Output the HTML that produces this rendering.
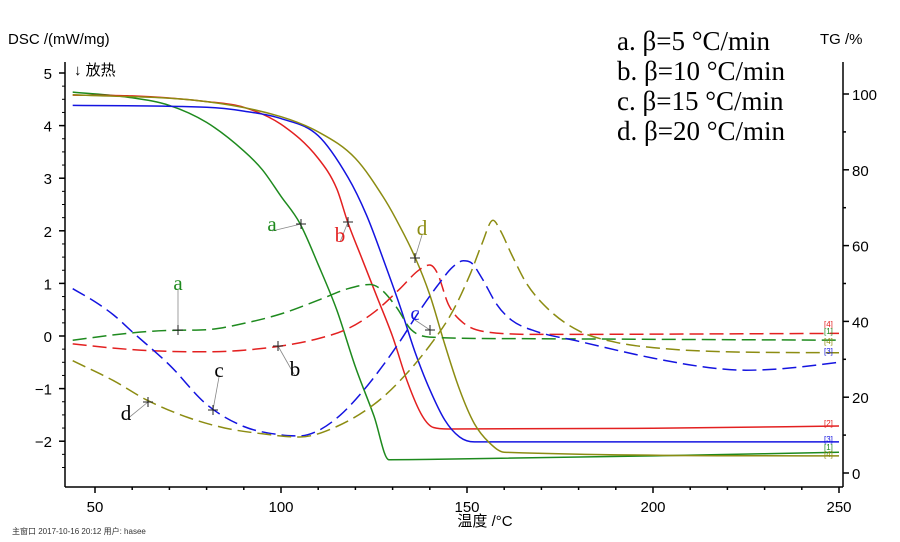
<!DOCTYPE html>
<html><head><meta charset="utf-8"><style>
body{margin:0;background:#fff;width:900px;height:542px;overflow:hidden}
svg{display:block}
text{font-family:"Liberation Sans","Noto Sans CJK SC",sans-serif}
.serif{font-family:"Liberation Serif","Noto Serif CJK SC",serif}
</style></head><body>
<svg id="chart" width="900" height="542" xmlns="http://www.w3.org/2000/svg"></svg>
<script>
const xTicks=[50,100,150,200,250];
const yLeftTicks=[5,4,3,2,1,0,-1,-2];
const yRightTicks=[100,80,60,40,20,0];
const tgT={a:[44,60,70,80,90,95,100,105,110,115,120,125,129,140,200,250],
b:[44,60,80,90,100,110,115,118,122,126,130,134,138,141,145,200,250],
c:[44,80,90,100,110,118,123,128,132,136,140,144,148,152,250],
d:[44,80,100,110,120,128,132,136,140,144,148,152,156,160,250]};
const tgA=[100.5,99,97,92.5,85,80,73,66,55,43,28,15,3.5,3.6,4.5,5.5];
const tgB=[99.7,99.5,98,96.5,92,83,75,66,56,46,36,24,15,12,11.6,11.8,12.4];
const tgC=[97,96.5,95.5,93.5,89,78,68,55,44,32,22,14,9.5,8.2,8.2];
const tgD=[99.8,98,94,90,83,72,65,57,47,34,22,13,8,5.5,4.5];
const dscT={a:[44,55,65,72,80,90,100,110,118,124,127,131,135,140,160,250],
b:[44,55,65,80,90,100,110,118,125,132,137,140,142,145,149,155,170,250],
c:[44,50,55,60,70,80,90,100,105,110,116,122,127,132,137,142,146,149,151,154,158,162,168,180,200,215,225,235,250],
d:[44,55,64,75,85,95,105,115,125,132,140,146,151,154,157,159,162,166,172,180,190,200,215,250]};
const dscA=[-0.08,0.02,0.09,0.11,0.12,0.24,0.42,0.68,0.9,0.98,0.88,0.55,0.12,-0.02,-0.05,-0.08];
const dscB=[-0.15,-0.23,-0.28,-0.3,-0.27,-0.19,-0.05,0.14,0.45,0.9,1.25,1.35,1.2,0.6,0.25,0.08,0.03,0.05];
const dscC=[0.9,0.65,0.4,0.08,-0.55,-1.3,-1.72,-1.88,-1.9,-1.8,-1.5,-1.05,-0.6,-0.1,0.45,0.95,1.3,1.43,1.4,1.1,0.6,0.3,0.1,-0.1,-0.42,-0.6,-0.65,-0.62,-0.5];
const dscD=[-0.47,-0.85,-1.22,-1.55,-1.75,-1.86,-1.92,-1.72,-1.3,-0.85,-0.18,0.45,1.2,1.75,2.2,2.0,1.55,1.0,0.5,0.1,-0.12,-0.22,-0.29,-0.32];

const X=t=>95+(t-50)*3.72;
const YL=v=>336-v*52.6;
const YR=v=>473-v*3.79;
const svg=document.getElementById('chart');
const NS='http://www.w3.org/2000/svg';
function mk(tag,attrs,parent){const e=document.createElementNS(NS,tag);for(const k in attrs)e.setAttribute(k,attrs[k]);(parent||svg).appendChild(e);return e;}
function txt(s,x,y,attrs,name){const e=mk('text',Object.assign({x:x,y:y},attrs));e.textContent=s;return e;}
function mono(xs,ys){const n=xs.length,d=[],m=[];
for(let i=0;i<n-1;i++)d.push((ys[i+1]-ys[i])/(xs[i+1]-xs[i]));
m[0]=d[0];m[n-1]=d[n-2];
for(let i=1;i<n-1;i++){m[i]=(d[i-1]*d[i]<=0)?0:(d[i-1]+d[i])/2;}
for(let i=0;i<n-1;i++){if(d[i]===0){m[i]=0;m[i+1]=0;continue;}const a=m[i]/d[i],b=m[i+1]/d[i],s=a*a+b*b;if(s>9){const t=3/Math.sqrt(s);m[i]=t*a*d[i];m[i+1]=t*b*d[i];}}
let p='M'+xs[0].toFixed(1)+','+ys[0].toFixed(1);
for(let i=0;i<n-1;i++){const h=xs[i+1]-xs[i];p+=' C'+(xs[i]+h/3).toFixed(1)+','+(ys[i]+m[i]*h/3).toFixed(1)+' '+(xs[i+1]-h/3).toFixed(1)+','+(ys[i+1]-m[i+1]*h/3).toFixed(1)+' '+xs[i+1].toFixed(1)+','+ys[i+1].toFixed(1);}
return p;}
const col={a:'#1e8a1e',b:'#e32020',c:'#1414e0',d:'#8c8c12'};
const ax=mk('g',{stroke:'#000','stroke-width':1.5,fill:'none'});
mk('line',{x1:65,y1:62,x2:65,y2:487},ax);mk('line',{x1:65,y1:487,x2:843,y2:487},ax);mk('line',{x1:843,y1:62,x2:843,y2:487},ax);
xTicks.forEach(t=>{mk('line',{x1:X(t),y1:487,x2:X(t),y2:493},ax);txt(String(t),X(t),512,{'font-size':15,'text-anchor':'middle'},'x-tick-label');});
for(let t=50;t<=250;t+=10){if(t%50)mk('line',{x1:X(t),y1:487,x2:X(t),y2:490},ax);}
yLeftTicks.forEach(v=>{mk('line',{x1:59,y1:YL(v),x2:65,y2:YL(v)},ax);txt(String(v).replace('-','−'),52,YL(v)+6,{'font-size':15,'text-anchor':'end'},'y-left-tick-label');});
for(let v=-2.5;v<=5;v+=0.25){mk('line',{x1:62,y1:YL(v),x2:65,y2:YL(v),'stroke-width':1},ax);}
yRightTicks.forEach(v=>{mk('line',{x1:843,y1:YR(v),x2:849,y2:YR(v)},ax);txt(String(v),852,YR(v)+6,{'font-size':15},'y-right-tick-label');});
for(let v=10;v<100;v+=20)mk('line',{x1:843,y1:YR(v),x2:846,y2:YR(v)},ax);
txt('DSC /(mW/mg)',8,44,{'font-size':15},'y-left-title');
txt('TG /%',820,44,{'font-size':15},'y-right-title');
txt('↓ 放热',74,75,{'font-size':15},'exo-label');
txt('温度 /°C',485,526,{'font-size':15,'text-anchor':'middle'},'x-axis-title');
txt('主窗口    2017-10-16 20:12    用户: hasee',12,534,{'font-size':8,fill:'#333'},'footer-info');
const lg=['a. β=5 °C/min','b. β=10 °C/min','c. β=15 °C/min','d. β=20 °C/min'];
lg.forEach((s,i)=>txt(s,617,50+i*30,{'font-size':27,class:'serif'},'legend-entry'));
function series(T,V,Y,c,dash,name){const p=mk('path',{d:mono(T.map(X),V.map(Y)),stroke:c,'stroke-width':1.5,fill:'none'});if(dash)p.setAttribute('stroke-dasharray','14,6');}
series(tgT.a,tgA,YR,col.a,false,'tg-curve-a');series(tgT.b,tgB,YR,col.b,false,'tg-curve-b');
series(tgT.c,tgC,YR,col.c,false,'tg-curve-c');series(tgT.d,tgD,YR,col.d,false,'tg-curve-d');
series(dscT.a,dscA,YL,col.a,true,'dsc-curve-a');series(dscT.b,dscB,YL,col.b,true,'dsc-curve-b');
series(dscT.c,dscC,YL,col.c,true,'dsc-curve-c');series(dscT.d,dscD,YL,col.d,true,'dsc-curve-d');
[['[2]',426,col.b],['[3]',442,col.c],['[1]',450,col.a],['[4]',457,col.d],['[4]',327,col.b],['[1]',334,col.a],['[4]',344,col.d],['[3]',354,col.c]].forEach(m=>txt(m[0],824,m[1],{'font-size':8,fill:m[2]},'curve-end-marker'));
function ann(l,lx,ly,px,py,c,name){mk('line',{x1:lx,y1:ly,x2:px,y2:py,stroke:'#888','stroke-width':0.8});mk('path',{d:`M${px-5},${py}h10M${px},${py-5}v10`,stroke:'#222','stroke-width':1});txt(l,lx,ly,{'font-size':21,fill:c,class:'serif','text-anchor':'middle'},name);}
ann('a',272,231,301,224,col.a,'annotation-tg-a');
ann('b',340,242,348,222,col.b,'annotation-tg-b');
ann('d',422,235,415,258,col.d,'annotation-tg-d');
ann('a',178,290,178,330,col.a,'annotation-dsc-a');
ann('b',295,376,278,346,'#000','annotation-dsc-b');
ann('c',219,377,213,410,'#000','annotation-dsc-c');
ann('d',126,420,148,402,'#000','annotation-dsc-d');
ann('c',415,320,430,330,col.c,'annotation-dsc-c-peak');
</script></body></html>
